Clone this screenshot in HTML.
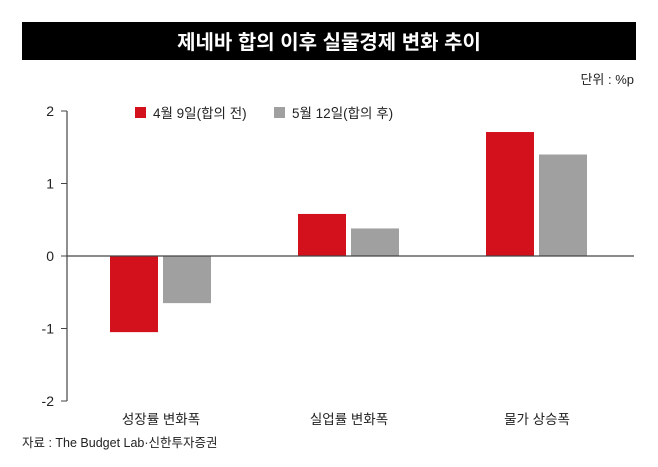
<!DOCTYPE html>
<html><head><meta charset="utf-8"><style>
body{margin:0;background:#fff;width:658px;height:462px;overflow:hidden;font-family:"Liberation Sans","Noto Sans CJK KR",sans-serif}
</style></head><body>
<svg width="658" height="462" xmlns="http://www.w3.org/2000/svg" font-family="Liberation Sans, Noto Sans CJK KR, sans-serif">
<rect x="22" y="22" width="614" height="38" fill="#000"/>
<text x="329" y="49" text-anchor="middle" fill="#fff" font-size="20" font-weight="bold">제네바 합의 이후 실물경제 변화 추이</text>
<text x="634" y="84" text-anchor="end" font-size="13" fill="#222">단위 : %p</text>
<g>
<rect x="135" y="107" width="11" height="11" fill="#d2111c"/>
<text x="153" y="118" font-size="13.5" fill="#222">4월 9일(합의 전)</text>
<rect x="274" y="107" width="11" height="11" fill="#a0a0a0"/>
<text x="292" y="118" font-size="13.5" fill="#222">5월 12일(합의 후)</text>
</g>
<g id="axes"></g>
<g id="bars"></g>
<text x="22" y="447" font-size="12.5" fill="#222">자료 : The Budget Lab·신한투자증권</text>
</svg>
<script>
const categories=["성장률 변화폭","실업률 변화폭","물가 상승폭"];
const before=[-1.05,0.58,1.71];
const after=[-0.65,0.38,1.40];
const ticks=[2,1,0,-1,-2];
const NS="http://www.w3.org/2000/svg";
const y=v=>256-v*72.5;
const gx=i=>110+i*188;
const ax=document.getElementById('axes'),bg=document.getElementById('bars');
function mk(tag,attrs,parent){const e=document.createElementNS(NS,tag);for(const k in attrs)e.setAttribute(k,attrs[k]);parent.appendChild(e);return e;}
const yl=mk('line',{x1:67,x2:67,y1:y(2),y2:y(-2),stroke:'#444','stroke-width':1.2},ax);


ticks.forEach(t=>{
const l=mk('line',{x1:61,x2:67,y1:y(t),y2:y(t),stroke:'#444'},ax);


const tx=mk('text',{x:54,y:y(t)+5,'text-anchor':'end','font-size':14,fill:'#222'},ax);
tx.textContent=t;


});
categories.forEach((c,i)=>{
const x=gx(i);
const r=mk('rect',{x:x,width:48,y:Math.min(y(0),y(before[i])),height:Math.abs(y(before[i])-y(0)),fill:'#d2111c'},bg);


const g=mk('rect',{x:x+53,width:48,y:Math.min(y(0),y(after[i])),height:Math.abs(y(after[i])-y(0)),fill:'#a0a0a0'},bg);


const t=mk('text',{x:x+51,y:424,'text-anchor':'middle','font-size':13.5,fill:'#222'},bg);
t.textContent=c;


});
const z=mk('line',{x1:67,x2:634,y1:y(0),y2:y(0),stroke:'#444','stroke-width':1.2},bg);


</script>
</body></html>
